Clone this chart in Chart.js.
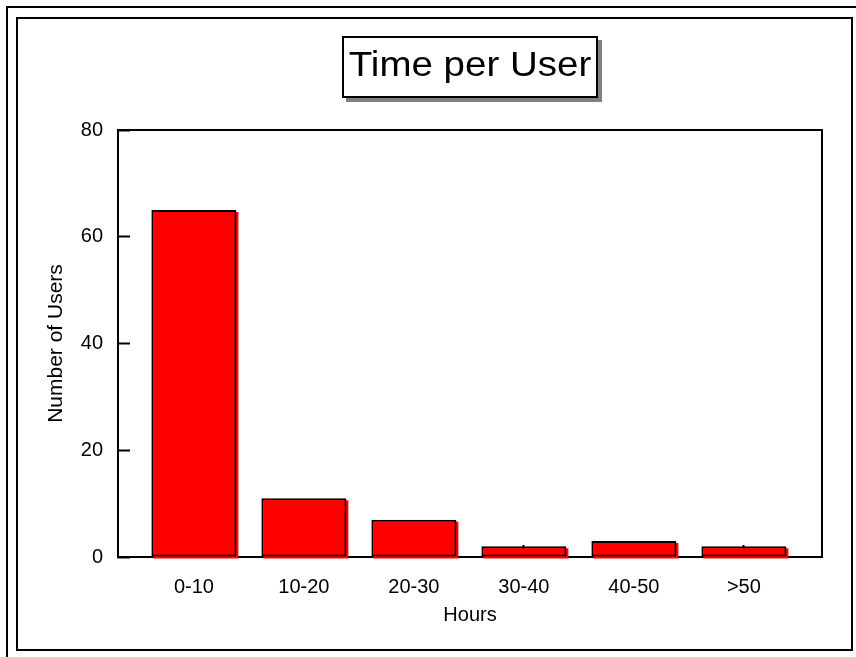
<!doctype html>
<html lang="en">
<head>
<meta charset="utf-8">
<title>Time per User</title>
<script src="https://cdn.jsdelivr.net/npm/chart.js@4.4.1/dist/chart.umd.min.js"></script>
<style>
  body { margin: 0; background: #fff; }
  #wrap { width: 856px; height: 657px; position: relative; }
</style>
</head>
<body>
<div id="wrap"><canvas id="myChart"></canvas></div>
<script>
  // chart data
  const chartTitle = "Time per User";
  const categories = ["0-10", "10-20", "20-30", "30-40", "40-50", ">50"];
  const users = [65, 11, 7, 2, 3, 2];
  const yTicks = [0, 20, 40, 60, 80];

  const FONT = "'Liberation Sans', Arial, sans-serif";

  // red fill shifted a little right/down behind each outlined bar
  const barShadow = {
    id: 'barShadow',
    beforeDatasetsDraw(chart) {
      const ctx = chart.ctx;
      const meta = chart.getDatasetMeta(0);
      ctx.save();
      ctx.fillStyle = '#ff0000';
      meta.data.forEach(bar => {
        const p = bar.getProps(['x', 'y', 'base', 'width'], true);
        ctx.fillRect(p.x - p.width / 2 + 2, p.y + 2, p.width, p.base - p.y);
      });
      ctx.restore();
    }
  };

  // frames, plot box and the boxed title
  const decor = {
    id: 'decor',
    afterDraw(chart) {
      const ctx = chart.ctx;
      const a = chart.chartArea;
      ctx.save();
      ctx.strokeStyle = '#000';
      ctx.lineWidth = 2;

      // outer lines
      ctx.beginPath();
      ctx.moveTo(7, 657); ctx.lineTo(7, 7); ctx.lineTo(856, 7);
      ctx.stroke();
      // inner frame
      ctx.strokeRect(17, 18, 835, 632);

      // top and right of plot box
      ctx.beginPath();
      ctx.moveTo(a.left, a.top); ctx.lineTo(a.right, a.top); ctx.lineTo(a.right, a.bottom);
      ctx.stroke();

      // title box
      const cx = (a.left + a.right) / 2;
      const bw = 256, bh = 62, by = 36;
      const bx = cx - bw / 2;
      ctx.fillStyle = '#808080';
      ctx.fillRect(bx + 4, by + 4, bw, bh);
      ctx.fillStyle = '#fff';
      ctx.fillRect(bx, by, bw, bh);
      ctx.strokeRect(bx + 1, by + 1, bw - 2, bh - 2);

      ctx.fillStyle = '#000';
      ctx.textAlign = 'center';
      ctx.textBaseline = 'alphabetic';
      ctx.font = '35px ' + FONT;
      ctx.translate(cx, 76);
      ctx.scale(1.1, 1);
      ctx.fillText(chartTitle, 0, 0);
      ctx.restore();
    }
  };

  new Chart(document.getElementById('myChart'), {
    type: 'bar',
    data: {
      datasets: [{
        label: 'Number of Users',
        data: users.map((v, i) => ({ x: i, y: v })),
        backgroundColor: '#ff0000',
        borderColor: '#000',
        borderWidth: 2,
        borderSkipped: false,
        categoryPercentage: 1,
        barPercentage: 0.773
      }]
    },
    options: {
      responsive: true,
      maintainAspectRatio: false,
      animation: false,
      layout: { padding: { left: 0, top: 130, right: 34, bottom: 0 } },
      plugins: {
        legend: { display: false },
        title: { display: false },
        tooltip: { enabled: false }
      },
      scales: {
        x: {
          type: 'linear',
          min: -0.69,
          max: 5.71,
          offset: false,
          afterFit: s => { s.height = 100; },
          grid: {
            offset: false,
            drawOnChartArea: false,
            drawTicks: true,
            tickLength: -12,
            tickWidth: 2,
            tickColor: '#000'
          },
          border: { display: true, color: '#000', width: 2 },
          ticks: {
            stepSize: 1,
            includeBounds: false,
            autoSkip: false,
            maxRotation: 0,
            padding: 30,
            color: '#000',
            font: { family: FONT, size: 20 },
            callback: v => Number.isInteger(v) ? (categories[v] || '') : ''
          },
          title: {
            display: true,
            text: 'Hours',
            color: '#000',
            font: { family: FONT, size: 20 },
            padding: { top: 0, bottom: 30 }
          }
        },
        y: {
          min: 0,
          max: 80,
          afterFit: s => { s.width = 118; },
          afterBuildTicks: s => { s.ticks = yTicks.map(v => ({ value: v })); },
          grid: {
            drawOnChartArea: false,
            drawTicks: true,
            tickLength: -12,
            tickWidth: 2,
            tickColor: '#000'
          },
          border: { display: true, color: '#000', width: 2 },
          ticks: {
            padding: 27,
            color: '#000',
            font: { family: FONT, size: 20 }
          },
          title: {
            display: true,
            text: 'Number of Users',
            color: '#000',
            font: { family: FONT, size: 21 },
            padding: { top: 44, bottom: 0 }
          }
        }
      }
    },
    plugins: [barShadow, decor]
  });
</script>
</body>
</html>
